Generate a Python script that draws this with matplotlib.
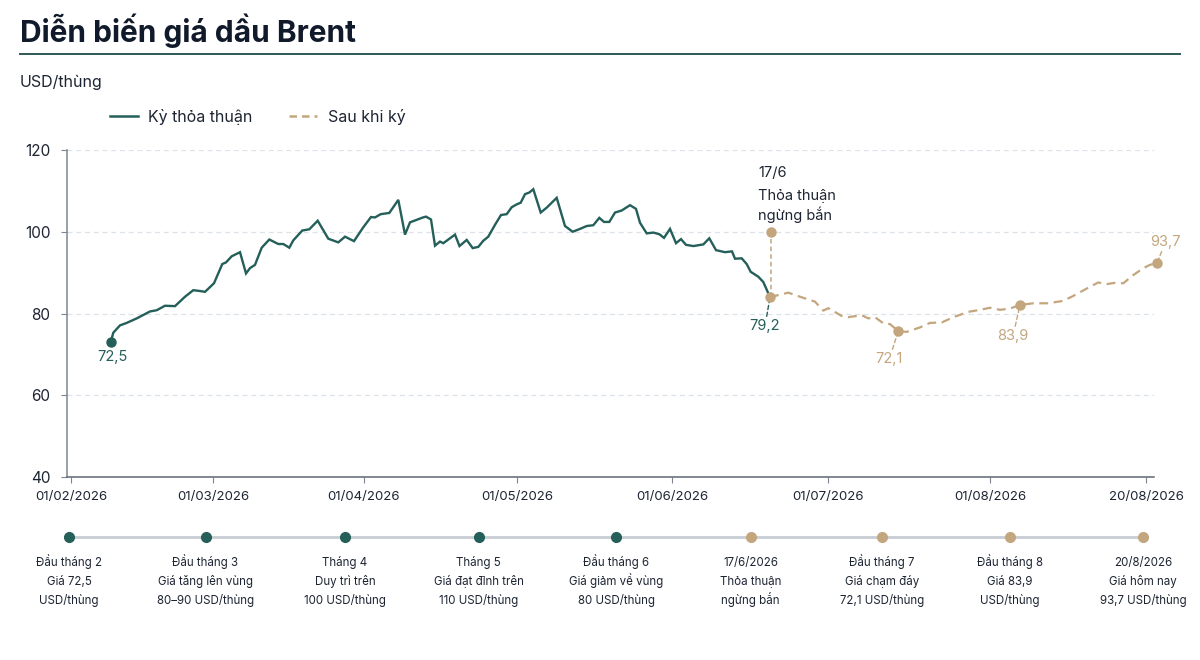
import matplotlib
matplotlib.use("Agg")
import matplotlib.pyplot as plt
from matplotlib.lines import Line2D

plt.rcParams['font.family'] = ['Inter', 'DejaVu Sans']

# ---------------- data ----------------
# time axis: position scale of the reference (ticks are not evenly spaced)
tick_pos = [71, 213, 364, 517, 672, 828, 990, 1146]
tick_labels = ["01/02/2026", "01/03/2026", "01/04/2026", "01/05/2026",
               "01/06/2026", "01/07/2026", "01/08/2026", "20/08/2026"]
y_ticks = [40, 60, 80, 100, 120]

deal_t = [110.7, 113.3, 120, 126.7, 136.7, 150, 156.7, 165, 175, 185, 193.3, 200, 205,
          214, 222.3, 226, 231.7, 240, 246, 250, 255, 261.7, 269.3, 278.3, 283.3, 289.3,
          293.3, 302.3, 309.3, 317.7, 328.3, 338.3, 345, 354, 363.3, 371, 375, 380.7,
          389.3, 398.3, 405, 410, 423, 426, 431, 435, 440, 443.3, 455, 459.5, 466.7,
          472.7, 478.3, 483.3, 488.3, 495, 501, 506.7, 511.7, 516.7, 520.7, 525, 529.3,
          533.3, 540.7, 546.7, 551.7, 556.7, 565, 572.7, 580, 586.7, 593.3, 599.3, 604,
          609.3, 615, 621.7, 630, 636, 640, 646.7, 653.3, 659.3, 664, 670, 676, 681, 686,
          693.3, 703.3, 709.3, 716, 725, 732, 735, 741.7, 746.7, 750.7, 758.3, 763.3, 770]
deal_v = [73.0, 75.3, 77.1, 77.7, 78.8, 80.5, 80.8, 81.9, 81.8, 84.1, 85.7, 85.5, 85.3,
          87.4, 92.1, 92.5, 94.0, 95.0, 89.8, 91.1, 91.9, 96.1, 98.1, 97.0, 97.0, 96.1,
          97.9, 100.3, 100.6, 102.7, 98.3, 97.4, 98.8, 97.7, 101.1, 103.6, 103.5, 104.3,
          104.6, 107.8, 99.3, 102.3, 103.5, 103.7, 103.0, 96.6, 97.6, 97.2, 99.3, 96.5, 98.0,
          96.0, 96.3, 97.8, 98.8, 101.7, 104.1, 104.3, 106.0, 106.7, 107.1, 109.2, 109.6,
          110.4, 104.7, 105.9, 107.1, 108.3, 101.4, 100.0, 100.7, 101.4, 101.6, 103.4, 102.4,
          102.4, 104.7, 105.2, 106.5, 105.6, 102.2, 99.6, 99.8, 99.4, 98.5, 100.7, 97.2, 98.2, 96.8,
          96.5, 96.9, 98.4, 95.5, 95.0, 95.2, 93.4, 93.5, 92.1, 90.2, 89.0, 87.7, 84.0]

after_t = [770, 788.3, 800, 815, 823.3, 828.3, 841.7, 848.3, 861.7, 868.3, 875, 883.3, 890,
           898.3, 906.7, 920, 930, 941.7, 953.3, 968.3, 980, 990, 1000, 1010, 1020, 1033.3,
           1048.3, 1063.3, 1073.3, 1086.7, 1098.3, 1106.7, 1115, 1123.3, 1133.3, 1143.3,
           1150, 1157.3]
after_v = [84.0, 85.1, 84.1, 82.9, 80.7, 81.3, 79.4, 79.1, 79.6, 78.8, 79.1, 77.6, 77.4,
           75.7, 75.5, 76.6, 77.7, 77.8, 79.1, 80.4, 80.9, 81.4, 80.9, 81.2, 82.1, 82.5,
           82.5, 83.1, 84.3, 86.1, 87.6, 87.2, 87.5, 87.4, 89.4, 91.1, 91.9, 92.4]

series_names = ["Kỳ thỏa thuận", "Sau khi ký"]

# highlighted points: (index in series, label)
start_label = "72,5"
after_points_idx = [0, 13, 24, 37]
after_points_lbl = ["79,2", "72,1", "83,9", "93,7"]

ceasefire_t = 771
ceasefire_v = 100.0
ceasefire_date = "17/6"
ceasefire_lines = ["Thỏa thuận", "ngừng bắn"]

tl_titles = ["Đầu tháng 2", "Đầu tháng 3", "Tháng 4", "Tháng 5", "Đầu tháng 6",
             "17/6/2026", "Đầu tháng 7", "Đầu tháng 8", "20/8/2026"]
tl_desc1 = ["Giá 72,5", "Giá tăng lên vùng", "Duy trì trên", "Giá đạt đỉnh trên",
            "Giá giảm về vùng", "Thỏa thuận", "Giá chạm đáy", "Giá 83,9", "Giá hôm nay"]
tl_desc2 = ["USD/thùng", "80–90 USD/thùng", "100 USD/thùng", "110 USD/thùng",
            "80 USD/thùng", "ngừng bắn", "72,1 USD/thùng", "USD/thùng", "93,7 USD/thùng"]
tl_phase = [0, 0, 0, 0, 0, 1, 1, 1, 1]

# ---------------- style / layout ----------------
TEAL = "#245f5a"
TAN = "#c3a67e"
TEXT = "#1d2533"
GRID = "#dde1e8"
SPINE = "#7d8591"
W, H = 1200, 660

fig = plt.figure(figsize=(12, 6.6), dpi=100, facecolor="white")

def fx(px):
    return px / W

def fy(py):
    return 1 - py / H

# title + rule
fig.text(fx(20), fy(31), "Diễn biến giá dầu Brent", fontsize=21.5, fontweight="bold",
         color="#111a2a", va="center", ha="left")
fig.add_artist(Line2D([fx(20), fx(1180)], [fy(54), fy(54)], color="#2d5956", lw=1.4,
                      transform=fig.transFigure))
fig.text(fx(20), fy(82), "USD/thùng", fontsize=11.5, color=TEXT, va="center", ha="left")

# main axes
ax = fig.add_axes([fx(67), fy(477), fx(1154 - 67), (477 - 150) / H])
ax.set_xlim(67, 1154)
ax.set_ylim(40, 120)
ax.set_yticks(y_ticks)
for v in y_ticks[1:]:
    ax.axhline(v, color=GRID, lw=0.9, ls=(0, (4, 3)), zorder=0, xmax=1.0)
ax.set_xticks(tick_pos)
ax.set_xticklabels(tick_labels)
for s in ["top", "right"]:
    ax.spines[s].set_visible(False)
ax.spines["left"].set_color(SPINE)
ax.spines["bottom"].set_color("#5f6773")
ax.spines["left"].set_linewidth(1.1)
ax.spines["bottom"].set_linewidth(1.1)
ax.tick_params(axis="y", length=4, color=SPINE, labelsize=11, labelcolor=TEXT, pad=8)
ax.tick_params(axis="x", length=4, color=SPINE, labelsize=9.5, labelcolor=TEXT, pad=6)

ax.plot(deal_t, deal_v, color=TEAL, lw=1.7, solid_joinstyle="miter", zorder=3)
ax.plot(after_t, after_v, color=TAN, lw=1.6, ls=(0, (4, 2.5)), zorder=3)

# start point
ax.plot(deal_t[0], deal_v[0], "o", color=TEAL, ms=6.5, zorder=4)
ax.annotate(start_label, (deal_t[0], deal_v[0]), xytext=(2, -15), textcoords="offset pixels",
            ha="center", va="center", fontsize=10.5, color=TEAL)

# ceasefire callout
ax.plot([ceasefire_t, ceasefire_t], [after_v[0], ceasefire_v], color=TAN, lw=1.1,
        ls=(0, (3, 2)), zorder=2)
ax.plot(ceasefire_t, ceasefire_v, "o", color=TAN, ms=6.5, zorder=4, clip_on=False)
ax.annotate(ceasefire_date, (ceasefire_t, ceasefire_v), xytext=(-13, 55),
            textcoords="offset pixels", ha="left", va="baseline", fontsize=10.5, color=TEXT)
for k, line in enumerate(ceasefire_lines):
    ax.annotate(line, (ceasefire_t, ceasefire_v), xytext=(-13, 32 - 20 * k),
                textcoords="offset pixels", ha="left", va="baseline", fontsize=10.5, color=TEXT)

# after-deal labelled points
offsets = [(-5, -29), (-9, -28), (-7, -31), (8, 21)]
for k, (i, lbl) in enumerate(zip(after_points_idx, after_points_lbl)):
    col = TEAL if k == 0 else TAN
    ax.plot(after_t[i], after_v[i], "o", color=TAN, ms=6.5, zorder=5, clip_on=False)
    ax.annotate(lbl, (after_t[i], after_v[i]), xytext=offsets[k], textcoords="offset pixels",
                ha="center", va="center", fontsize=10.5, color=col,
                arrowprops=dict(arrowstyle="-", color=col, lw=1.0, ls=(0, (3, 2)),
                                shrinkA=0, shrinkB=3), annotation_clip=False)

# legend
handles = [Line2D([], [], color=TEAL, lw=1.8),
           Line2D([], [], color=TAN, lw=1.8, ls=(0, (3, 2)))]
fig.legend(handles, series_names, loc="center left", bbox_to_anchor=(fx(102), fy(117)),
           ncol=2, frameon=False, fontsize=11.5, handlelength=1.75, handletextpad=0.65,
           columnspacing=2.3, borderpad=0, labelcolor=TEXT)

# timeline
tl = fig.add_axes([0, 0, 1, 1], facecolor="none")
tl.set_xlim(0, W)
tl.set_ylim(H, 0)
tl.axis("off")
tl_x = [69, 205.5, 345, 478.5, 616, 750.5, 882, 1010, 1143]
tl.plot([tl_x[0], tl_x[-1]], [537, 537], color="#c8ccd4", lw=2, zorder=1)
for x, t, d1, d2, p in zip(tl_x, tl_titles, tl_desc1, tl_desc2, tl_phase):
    col = TEAL if p == 0 else TAN
    tl.plot(x, 537, "o", color=col, ms=7, zorder=2)
    tl.text(x, 566, t, ha="center", va="baseline", fontsize=8.3, color=TEXT)
    tl.text(x, 585, d1, ha="center", va="baseline", fontsize=8.3, color=TEXT)
    tl.text(x, 604, d2, ha="center", va="baseline", fontsize=8.3, color=TEXT)

fig.savefig("out.png", dpi=100, facecolor="white")
